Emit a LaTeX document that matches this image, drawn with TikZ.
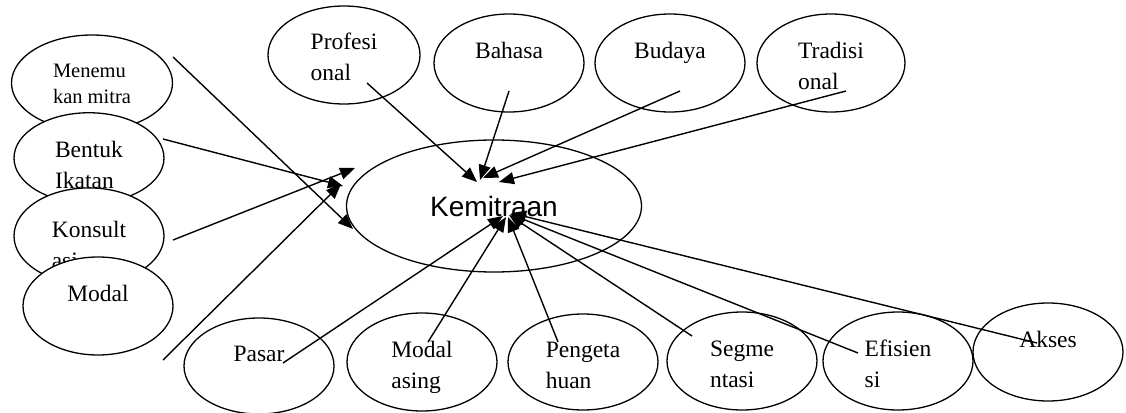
\documentclass[tikz,border=0pt]{standalone}
\usepackage{fontspec}
\setmainfont{Liberation Serif}
\setsansfont{Liberation Sans}
\usetikzlibrary{shapes.geometric,arrows.meta}

\begin{document}
\begin{tikzpicture}[x=1pt,y=-1pt]

\tikzset{
    bub/.style={draw, ellipse, fill=white, line width=1.3pt, inner sep=0pt, minimum width=150pt, minimum height=98pt, align=left, text height=56pt, text depth=4pt, font=\fontsize{23.5}{31}\selectfont},
    arr/.style={-{Triangle[length=15pt,width=12pt]}, line width=1.4pt}
}
\useasboundingbox (0,0) rectangle (1126,412);

\node[bub, minimum width=161pt, minimum height=96pt, text height=42pt, text depth=2pt, font=\fontsize{20.5}{26}\selectfont] (menemu) at (92,83) {Menemu\\kan mitra};
\node[bub, minimum height=90pt, text height=62pt, text depth=2pt] (bentuk) at (89,158) {Bentuk\\Ikatan};
\node[bub, minimum height=88pt, text height=66pt, text depth=2pt] (konsult) at (89,236) {Konsult\\asi};
\node[bub] (modal) at (98,306) {Modal\\\strut};

\node[bub, minimum width=152pt] (profesi) at (344,55) {Profesi\\onal};
\node[bub] (bahasa) at (509,63) {Bahasa\\\strut};
\node[bub] (budaya) at (670,63) {Budaya\\\strut};
\node[bub, minimum width=148pt] (tradisi) at (831,63) {Tradisi\\onal};

\node[bub, minimum height=96pt] (pasar) at (259,366) {Pasar\\\strut};
\node[bub] (modasing) at (422,362) {Modal\\asing};
\node[bub, minimum height=96pt] (pengeta) at (583,362) {Pengeta\\huan};
\node[bub] (segmen) at (742,361) {Segme\\ntasi};
\node[bub] (efisien) at (898,361) {Efisien\\si};
\node[bub] (akses) at (1048,352) {Akses\\\strut};

\node[bub, minimum width=295pt, minimum height=132pt, text height=20pt, text depth=0pt, font=\sffamily\fontsize{28}{32}\selectfont] (kem) at (494,206) {Kemitraan};

\draw[arr] ([shift={(81,-26)}]menemu.center) -- ([shift={(-141,23)}]kem.center);
\draw[arr] ([shift={(74,-19)}]bentuk.center) -- ([shift={(-151,-20)}]kem.center);
\draw[arr] ([shift={(84,4)}]konsult.center) -- ([shift={(-139,-38)}]kem.center);
\draw[arr] ([shift={(65,54)}]modal.center) -- ([shift={(-153,-22)}]kem.center);

\draw[arr] ([shift={(23,28)}]profesi.center) -- ([shift={(-17,-24)}]kem.center);
\draw[arr] ([shift={(0,28)}]bahasa.center) -- ([shift={(-14,-26)}]kem.center);
\draw[arr] ([shift={(10,28)}]budaya.center) -- ([shift={(-11,-28)}]kem.center);
\draw[arr] ([shift={(15,28)}]tradisi.center) -- ([shift={(5,-24)}]kem.center);

\draw[arr] ([shift={(24,-3)}]pasar.center) -- ([shift={(9,10)}]kem.center);
\draw[arr] ([shift={(6,-20)}]modasing.center) -- ([shift={(12,11)}]kem.center);
\draw[arr] ([shift={(-25,-20)}]pengeta.center) -- ([shift={(14,11)}]kem.center);
\draw[arr] ([shift={(-50,-25)}]segmen.center) -- ([shift={(15,9)}]kem.center);
\draw[arr] ([shift={(-40,-8)}]efisien.center) -- ([shift={(16,8)}]kem.center);
\draw[arr] ([shift={(-11,-9)}]akses.center) -- ([shift={(17,7)}]kem.center);

\end{tikzpicture}
\end{document}
